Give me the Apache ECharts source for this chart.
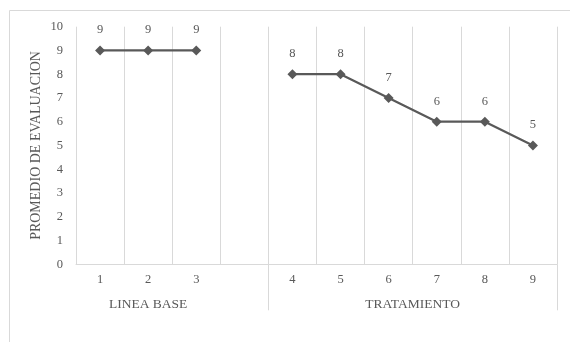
<!DOCTYPE html>
<html><head><meta charset="utf-8">
<script src="https://cdn.jsdelivr.net/npm/echarts@6/dist/echarts.min.js"></script>
<style>html,body{margin:0;padding:0;background:#fff}#c{width:570px;height:342px}</style>
</head><body><div id="c"></div>
<script>
var categories = ['1','2','3','','4','5','6','7','8','9'];
var baseline = [9,9,9,null,null,null,null,null,null,null];
var treatment = [null,null,null,null,8,8,7,6,6,5];
var yTicks = [0,1,2,3,4,5,6,7,8,9,10];
var groupNames = ['LINEA BASE','TRATAMIENTO'];
var groupCenters = [1.5, 7];
var groupBounds = [4, 10];
var yTitle = 'PROMEDIO DE EVALUACION';

var font = '"Liberation Serif","Times New Roman",serif';
var grey = '#595959';
var chart = echarts.init(document.getElementById('c'), null, {renderer:'canvas'});
function series(name, data){
  return {name:name, type:'line', data:data, xAxisIndex:0, symbol:'diamond', symbolSize:10,
    connectNulls:false, lineStyle:{color:grey,width:2.25}, itemStyle:{color:grey},
    label:{show:true,position:'top',distance:9,color:grey,fontFamily:font,fontSize:12.5},
    animation:false};
}
chart.setOption({
  animation:false,
  graphic:[{type:'rect',shape:{x:9.5,y:10.5,width:570,height:340},style:{fill:null,stroke:'#d9d9d9',lineWidth:1},silent:true}],
  grid:{left:76,right:13,top:26.7,bottom:77.7,containLabel:false},
  xAxis:[{type:'category',data:categories,boundaryGap:true,
      axisLine:{lineStyle:{color:'#d9d9d9',width:1}},axisTick:{show:false},
      axisLabel:{color:grey,fontFamily:font,fontSize:12.5,margin:9,interval:0},
      splitLine:{show:true,interval:0,lineStyle:{color:'#d9d9d9',width:1}}},
    {type:'value',min:0,max:10,position:'bottom',offset:0,
      axisLine:{show:false},splitLine:{show:false},
      axisTick:{show:true,customValues:groupBounds,length:46,inside:false,lineStyle:{color:'#d9d9d9',width:1}},
      axisLabel:{show:true,customValues:groupCenters,margin:33,color:grey,fontFamily:font,fontSize:13.5,
        formatter:function(v){var i=groupCenters.indexOf(v);return i>=0?groupNames[i]:'';}}}],
  yAxis:{type:'value',min:0,max:10,interval:1,
    axisLine:{show:false},axisTick:{show:false},splitLine:{show:false},
    axisLabel:{color:grey,fontFamily:font,fontSize:12.5,margin:13,
      customValues:yTicks},
    name:yTitle,nameLocation:'middle',nameGap:33,nameRotate:90,nameMoveOverlap:false,
    nameTextStyle:{color:grey,fontFamily:font,fontSize:14}},
  series:[series('Linea base',baseline),series('Tratamiento',treatment)]
});
</script></body></html>
